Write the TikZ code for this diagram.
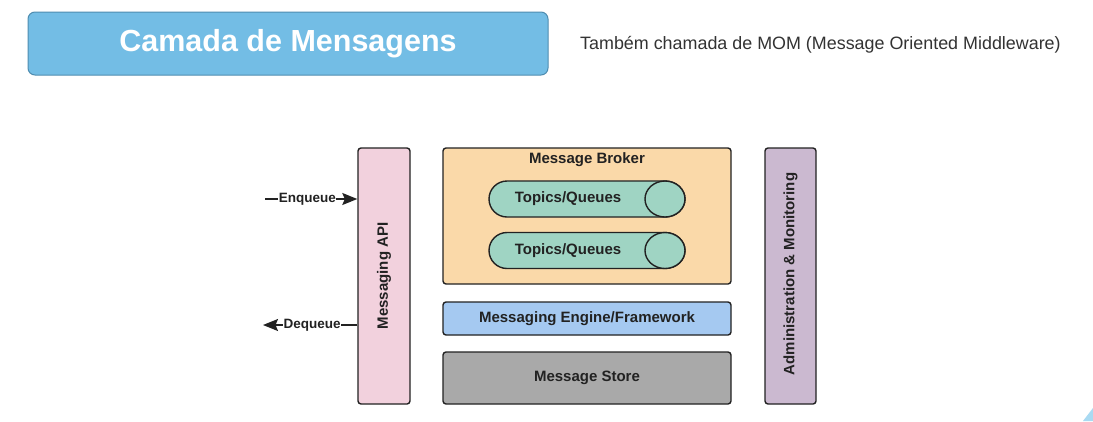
\documentclass[tikz,border=0pt]{standalone}
\usepackage{fontspec}
\setmainfont{Liberation Sans}
\usetikzlibrary{arrows.meta}
\definecolor{titlefill}{HTML}{73BDE5}
\definecolor{titledraw}{HTML}{4F8DB0}
\definecolor{apifill}{HTML}{F2D1DD}
\definecolor{brokerfill}{HTML}{FAD9A9}
\definecolor{topicfill}{HTML}{9FD4C3}
\definecolor{enginefill}{HTML}{A5C9F1}
\definecolor{storefill}{HTML}{A9A9A9}
\definecolor{adminfill}{HTML}{CBB9D0}
\definecolor{linecol}{HTML}{222222}
\definecolor{subtext}{HTML}{333333}
\definecolor{cornerfill}{HTML}{A9DAF2}
\begin{document}
\begin{tikzpicture}[x=1pt,y=-1pt,
  box/.style={draw=linecol, line width=1.4pt, rounded corners=3pt, inner sep=0pt,
    font=\fontsize{15}{17}\selectfont\bfseries, text=linecol},
  lbl/.style={font=\fontsize{15}{17}\selectfont\bfseries, text=linecol, inner sep=0pt},
  small/.style={font=\fontsize{13.5}{15}\selectfont\bfseries, text=linecol, fill=white, inner sep=0.5pt},
  conn/.style={draw=linecol, line width=1.4pt, -{Stealth[length=15pt,width=12pt,inset=2.5pt]}},
  topic/.style={draw=linecol, line width=1.4pt, fill=topicfill}]
\useasboundingbox (0,0) rectangle (1093,421);
\fill[white] (0,0) rectangle (1093,421);
% title
\node[draw=titledraw, line width=1pt, fill=titlefill, rounded corners=7pt,
  minimum width=520pt, minimum height=63pt, inner sep=0pt, text=white,
  font=\fontsize{30.5}{34}\selectfont\bfseries] (title) at (288,43.5) {Camada de Mensagens};
\node[anchor=west, inner sep=0pt, text=subtext, font=\fontsize{17.9}{20}\selectfont] (sub) at (580,45)
  {Também chamada de MOM (Message Oriented Middleware)};
% boxes
\node[box, fill=apifill, minimum width=52pt, minimum height=256pt] (api) at (384,276) {};
\node[lbl, rotate=90] (apit) at (384,276) {Messaging API};
\node[box, fill=brokerfill, minimum width=288pt, minimum height=136pt] (broker) at (587,216) {};
\node[lbl] (brokert) at (587,160) {Message Broker};
\node[box, fill=enginefill, minimum width=288pt, minimum height=33pt] (engine) at (587,318.5) {Messaging Engine/Framework};
\node[box, fill=storefill, minimum width=288pt, minimum height=52pt] (store) at (587,378) {Message Store};
\node[box, fill=adminfill, minimum width=51pt, minimum height=256pt] (admin) at (790.5,276) {};
\node[lbl, rotate=90] (admint) at (790.5,274) {Administration \& Monitoring};
% topics/queues cylinders
\foreach \cy/\nm in {199/tq1, 250.5/tq2}{
  \filldraw[topic] (507,\cy-18) -- (665,\cy-18)
    arc[start angle=-90, end angle=90, x radius=20, y radius=18]
    -- (507,\cy+18)
    arc[start angle=90, end angle=270, x radius=18, y radius=18] -- cycle;
  \draw[topic] (665,\cy) ellipse[x radius=20, y radius=18];
  \node[lbl] (\nm) at (568,\cy) {Topics/Queues};
}
% arrows
\coordinate (enq) at (265,199);
\coordinate (deq) at (263,325);
\draw[conn] (enq) -- node[small, pos=0.46] (enqt) {Enqueue} (enq -| api.west);
\draw[conn] (deq -| api.west) -- node[small, pos=0.48] (deqt) {Dequeue} (deq);
% corner decoration
\fill[cornerfill] (1083,421) -- (1093,408) -- (1093,421) -- cycle;
\end{tikzpicture}
\end{document}
